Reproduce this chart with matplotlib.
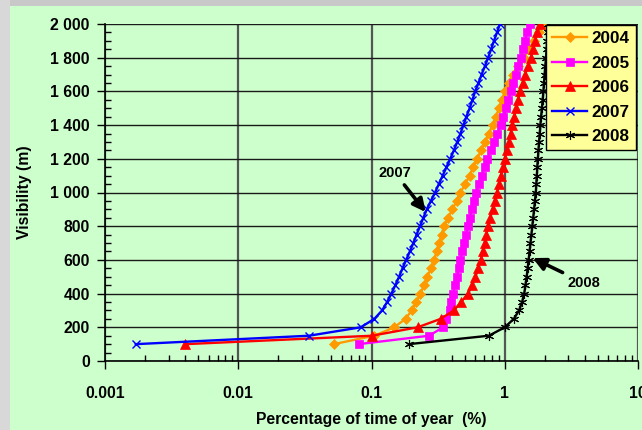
import matplotlib
matplotlib.use("Agg")
import matplotlib.pyplot as plt
from matplotlib.ticker import FixedLocator, NullFormatter, LogLocator
from matplotlib.patches import Rectangle

# ---------------- data ----------------
visibility = [100, 150, 200, 250, 300, 350, 400, 450, 500, 550, 600, 650, 700,
              750, 800, 850, 900, 950, 1000, 1050, 1100, 1150, 1200, 1250,
              1300, 1350, 1400, 1450, 1500, 1550, 1600, 1650, 1700, 1750,
              1800, 1850, 1900, 1950, 2000]

pct_2004 = [0.052, 0.105, 0.148, 0.180, 0.200, 0.217, 0.233, 0.248, 0.263,
            0.279, 0.295, 0.308, 0.322, 0.336, 0.350, 0.375, 0.405, 0.435,
            0.465, 0.505, 0.544, 0.580, 0.620, 0.665, 0.710, 0.760, 0.810,
            0.860, 0.906, 0.955, 1.000, 1.070, 1.150, 1.250, 1.400, 1.520,
            1.650, 1.800, 1.980]

pct_2005 = [0.080, 0.270, 0.345, 0.365, 0.385, 0.398, 0.410, 0.423, 0.437,
            0.451, 0.465, 0.479, 0.494, 0.511, 0.530, 0.548, 0.566, 0.585,
            0.610, 0.640, 0.670, 0.705, 0.740, 0.785, 0.830, 0.880, 0.930,
            0.975, 1.020, 1.065, 1.110, 1.160, 1.210, 1.265, 1.320, 1.365,
            1.410, 1.480, 1.550]

pct_2006 = [0.0040, 0.101, 0.222, 0.330, 0.415, 0.470, 0.530, 0.570, 0.603,
            0.632, 0.660, 0.682, 0.705, 0.728, 0.752, 0.780, 0.810, 0.840,
            0.875, 0.905, 0.935, 0.965, 1.000, 1.035, 1.070, 1.105, 1.140,
            1.180, 1.220, 1.260, 1.300, 1.360, 1.420, 1.495, 1.570, 1.630,
            1.690, 1.760, 1.840]

pct_2007 = [0.0017, 0.034, 0.083, 0.105, 0.120, 0.131, 0.141, 0.151, 0.161,
            0.171, 0.182, 0.194, 0.206, 0.218, 0.231, 0.245, 0.260, 0.279,
            0.300, 0.320, 0.342, 0.365, 0.390, 0.415, 0.440, 0.465, 0.490,
            0.515, 0.545, 0.572, 0.600, 0.635, 0.670, 0.710, 0.750, 0.790,
            0.830, 0.875, 0.920]

pct_2008 = [0.190, 0.760, 1.000, 1.170, 1.280, 1.350, 1.400, 1.430, 1.460,
            1.485, 1.510, 1.535, 1.560, 1.585, 1.610, 1.635, 1.660, 1.685,
            1.710, 1.725, 1.740, 1.755, 1.770, 1.790, 1.810, 1.830, 1.850,
            1.875, 1.900, 1.925, 1.950, 1.970, 1.990, 2.015, 2.040, 2.060,
            2.080, 2.100, 2.120]

series_labels = ["2004", "2005", "2006", "2007", "2008"]
y_ticks = [0, 200, 400, 600, 800, 1000, 1200, 1400, 1600, 1800, 2000]
y_tick_labels = ["0", "200", "400", "600", "800", "1 000", "1 200", "1 400",
                 "1 600", "1 800", "2 000"]
x_ticks = [0.001, 0.01, 0.1, 1, 10]
x_tick_labels = ["0.001", "0.01", "0.1", "1", "10"]

# ---------------- figure ----------------
plt.rcParams['font.family'] = ['Liberation Sans', 'DejaVu Sans']
plt.rcParams['font.weight'] = 'bold'

fig = plt.figure(figsize=(6.42, 4.30), dpi=100, facecolor='#ccffcc')
# grey frame strips (top and left)
fig.patches.append(Rectangle((0, 1 - 6 / 430), 1, 6 / 430, transform=fig.transFigure,
                             facecolor='#c8c8c8', edgecolor='none', zorder=0))
fig.patches.append(Rectangle((0, 0), 10 / 642, 1, transform=fig.transFigure,
                             facecolor='#d8d8d8', edgecolor='none', zorder=0))

ax = fig.add_axes([105 / 642, (430 - 361) / 430, 533 / 642, 337 / 430])
ax.set_facecolor('#ccffcc')

styles = [
    dict(color='#ff9900', marker='D', markersize=4.8, markeredgewidth=0.5),
    dict(color='#ff00ff', marker='s', markersize=5.5, markeredgewidth=0.5),
    dict(color='#ff0000', marker='^', markersize=6.5, markeredgewidth=0.5),
    dict(color='#0000ff', marker='x', markersize=5.5, markeredgewidth=1.0),
    dict(color='#000000', marker=(6, 2, 0), markersize=6.5, markeredgewidth=0.8),
]
all_series = [pct_2004, pct_2005, pct_2006, pct_2007, pct_2008]
for vals, lab, st in zip(all_series, series_labels, styles):
    ax.plot(vals, visibility, label=lab, linewidth=1.7, zorder=3, **st)

ax.set_xscale('log')
ax.set_xlim(0.001, 10)
ax.set_ylim(0, 2000)

ax.xaxis.set_major_locator(FixedLocator(x_ticks))
ax.set_xticklabels(x_tick_labels)
ax.xaxis.set_minor_locator(LogLocator(base=10, subs=range(2, 10)))
ax.xaxis.set_minor_formatter(NullFormatter())
ax.yaxis.set_major_locator(FixedLocator(y_ticks))
ax.set_yticklabels(y_tick_labels)
ax.yaxis.set_minor_locator(FixedLocator(list(range(0, 2001, 50))))

ax.tick_params(axis='both', which='major', direction='out', length=6, width=1,
               labelsize=11.3, color='black')
ax.tick_params(axis='x', which='major', pad=12)
ax.tick_params(axis='y', which='major', pad=5)
ax.tick_params(axis='both', which='minor', direction='in', length=4, width=1)
for lbl in ax.get_xticklabels() + ax.get_yticklabels():
    lbl.set_fontweight('bold')

ax.grid(True, axis='y', which='major', color='#1a1a1a', linewidth=1.0, zorder=1)
ax.grid(True, axis='x', which='major', color='#555555', linewidth=1.6, zorder=1)
ax.set_axisbelow(True)

for side in ['top', 'right']:
    ax.spines[side].set_visible(False)
for side in ['left', 'bottom']:
    ax.spines[side].set_color('black')
    ax.spines[side].set_linewidth(1.2)

ax.set_xlabel("Percentage of time of year  (%)", fontsize=11.3, fontweight='bold')
ax.set_ylabel("Visibility (m)", fontsize=11.3, fontweight='bold')
ax.xaxis.set_label_coords(0.5, -0.150)
ax.yaxis.set_label_coords(-0.137, 0.5)

leg = ax.legend(loc='upper right', bbox_to_anchor=(0.996, 0.996), fontsize=12.3,
                frameon=True, fancybox=False, facecolor='#ffff99', edgecolor='black',
                framealpha=1, handlelength=2.1, handletextpad=0.25, labelspacing=0.55,
                borderpad=0.35, borderaxespad=0.0)
leg.get_frame().set_linewidth(1.0)
for t in leg.get_texts():
    t.set_fontweight('bold')
leg.set_zorder(5)

arrow_kw = dict(arrowstyle='-|>', color='black', lw=2.6, mutation_scale=19,
                shrinkA=2, shrinkB=0)
ax.annotate("2007", xy=(0.255, 884), xytext=(0.150, 1116), textcoords='data',
            ha='center', va='center', fontsize=10.5, fontweight='bold',
            arrowprops=arrow_kw, zorder=6)
ax.annotate("2008", xy=(1.62, 611), xytext=(3.95, 463), textcoords='data',
            ha='center', va='center', fontsize=10.5, fontweight='bold',
            arrowprops=arrow_kw, zorder=6)

fig.savefig("out.png", dpi=100, facecolor=fig.get_facecolor())
